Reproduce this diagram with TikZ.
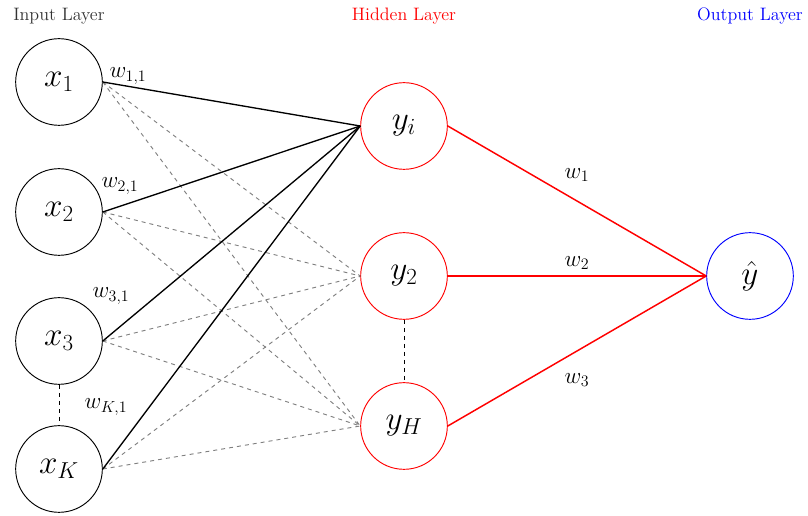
\documentclass[tikz,border=0pt]{standalone}
\begin{document}
\begin{tikzpicture}[x=0.75pt,y=-0.75pt,
  neuron/.style={circle,draw,line width=0.7pt,minimum size=65pt,inner sep=0pt,font=\fontsize{23}{27}\selectfont},
  hid/.style={neuron,draw=red},
  outn/.style={neuron,draw=blue},
  layerlbl/.style={font=\fontsize{13.5}{16}\selectfont},
  wlbl/.style={font=\fontsize{18}{21}\selectfont},
  solidw/.style={line width=1pt,black},
  dashw/.style={dashed,gray,line width=0.7pt},
  redw/.style={line width=1.1pt,red},
  gapline/.style={dashed,line width=0.7pt}]
\useasboundingbox (0,0) rectangle (808,516);
\node[layerlbl,text=black!80] (Lin) at (59,16) {Input Layer};
\node[layerlbl,text=red] (Lhid) at (404,16) {Hidden Layer};
\node[layerlbl,text=blue] (Lout) at (750,16) {Output Layer};

\node[neuron] (x1) at (59,82) {$x_1$};
\node[neuron] (x2) at (59,212) {$x_2$};
\node[neuron] (x3) at (59,341) {$x_3$};
\node[neuron] (xK) at (59,469) {$x_K$};

\node[hid] (yi) at (404,126) {$y_i$};
\node[hid] (y2) at (404,276) {$y_2$};
\node[hid] (yH) at (404,426) {$y_H$};

\node[outn] (yh) at (750,276) {$\hat{y}$};

\foreach \s in {x1,x2,x3,xK}{
  \draw[dashw] (\s.east) -- (y2.west);
  \draw[dashw] (\s.east) -- (yH.west);
}
\foreach \s in {x1,x2,x3,xK}{
  \draw[solidw] (\s.east) -- (yi.west);
}
\draw[gapline] (x3.south) -- (xK.north);
\draw[gapline] (y2.south) -- (yH.north);

\draw[redw] (yi.east) -- (yh.west);
\draw[redw] (y2.east) -- (yh.west);
\draw[redw] (yH.east) -- (yh.west);

\node[wlbl] (w11) at (128,76) {$w_{1,1}$};
\node[wlbl] (w21) at (120,186) {$w_{2,1}$};
\node[wlbl] (w31) at (111,296) {$w_{3,1}$};
\node[wlbl] (wK1) at (106,407) {$w_{K,1}$};
\node[wlbl] (w1) at (577,175) {$w_1$};
\node[wlbl] (w2) at (577,263) {$w_2$};
\node[wlbl] (w3) at (577,380) {$w_3$};
\end{tikzpicture}
\end{document}
